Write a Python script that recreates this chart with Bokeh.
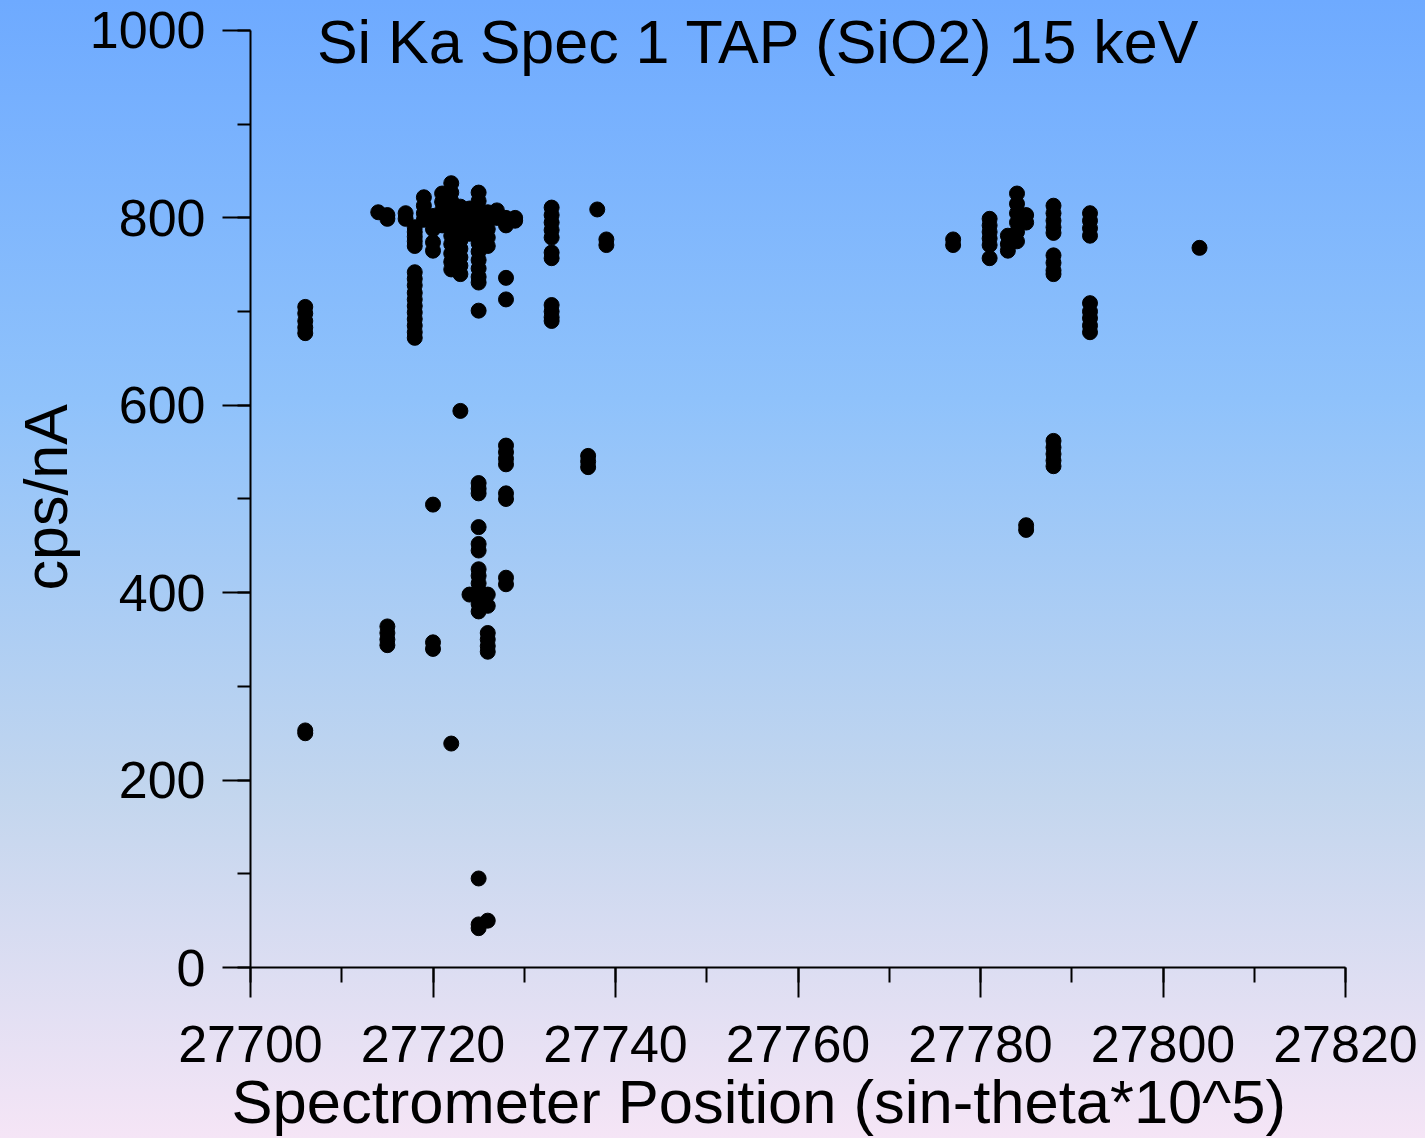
from bokeh.plotting import figure
from bokeh.models import Range1d, FixedTicker, Label, Title
from bokeh.embed import file_html
from bokeh.resources import INLINE

# ---- data (spectrometer position, cps/nA) ----
spec_pos = (
    [27706] * 7 + [27714] * 1 + [27715] * 6 + [27717] * 2 + [27718] * 16 +
    [27719] * 4 + [27720] * 8 + [27721] * 5 + [27722] * 12 + [27723] * 10 +
    [27724] * 5 + [27725] * 29 + [27726] * 12 + [27727] * 2 + [27728] * 12 +
    [27729] * 2 + [27733] * 11 + [27737] * 3 + [27738] * 1 + [27739] * 2 +
    [27777] * 2 + [27781] * 6 + [27783] * 3 + [27784] * 6 + [27785] * 4 +
    [27788] * 14 + [27792] * 9 + [27804] * 1
)
cps_na = [
    705, 698, 690, 683, 677, 253, 250,                       # 27706
    806,                                                     # 27714
    803, 799, 364, 357, 350, 344,                            # 27715
    805, 799,                                                # 27717
    790, 785, 780, 775, 770, 742, 735, 728, 720, 713, 706, 699, 692, 685, 678, 672,  # 27718
    822, 813, 805, 798,                                      # 27719
    802, 795, 788, 774, 765, 494, 347, 340,                  # 27720
    826, 817, 808, 800, 792,                                 # 27721
    837, 827, 818, 808, 799, 790, 781, 772, 762, 753, 745, 239,  # 27722
    812, 803, 794, 785, 776, 767, 758, 749, 740, 594,        # 27723
    810, 801, 792, 783, 398,                                 # 27724
    827, 818, 809, 800, 791, 782, 773, 764, 755, 746, 737, 731, 701,
    517, 511, 506, 470, 452, 445, 425, 418, 410, 402, 396, 388, 380, 95, 46, 42,  # 27725
    806, 797, 788, 779, 770, 398, 386, 357, 350, 343, 337, 50,  # 27726
    808, 800,                                                # 27727
    800, 792, 736, 713, 557, 550, 543, 537, 506, 500, 416, 409,  # 27728
    800, 797,                                                # 27729
    811, 803, 795, 787, 779, 763, 757, 707, 700, 694, 690,   # 27733
    546, 540, 534,                                           # 27737
    809,                                                     # 27738
    777, 771,                                                # 27739
    777, 771,                                                # 27777
    799, 792, 785, 778, 771, 757,                            # 27781
    781, 772, 765,                                           # 27783
    826, 815, 805, 795, 785, 775,                            # 27784
    803, 795, 472, 467,                                      # 27785
    813, 805, 797, 790, 784, 760, 752, 744, 740, 562, 555, 548, 541, 535,  # 27788
    805, 797, 789, 781, 709, 700, 693, 685, 678,             # 27792
    768,                                                     # 27804
]

x_major = [27700, 27720, 27740, 27760, 27780, 27800, 27820]
x_minor = [27700, 27710, 27720, 27730, 27740, 27750, 27760, 27770,
           27780, 27790, 27800, 27810, 27820]
y_major = [0, 200, 400, 600, 800, 1000]
y_minor = [0, 100, 200, 300, 400, 500, 600, 700, 800, 900, 1000]

title_text = "Si Ka Spec 1 TAP (SiO2) 15 keV"
x_label_text = "Spectrometer Position (sin-theta*10^5)"
y_label_text = "cps/nA"

FONT = "Liberation Sans"

# the frame reaches to the top edge so the title (which sits above the
# 1000 tick) is not clipped; the y axis line is bounded to 0..1000
p = figure(width=1425, height=1138, output_backend="svg", toolbar_location=None,
           x_range=Range1d(27700, 27820), y_range=Range1d(0, 1032),
           min_border_left=250, min_border_right=80, min_border_top=0,
           min_border_bottom=171)
p.styles = {"background": "linear-gradient(to bottom, #6eaaff 0%, #8fc2fb 35%, "
                          "#c3d6ee 70%, #f5e5f6 100%)"}
p.background_fill_color = None
p.border_fill_color = None
p.outline_line_color = None
p.xgrid.visible = False
p.ygrid.visible = False

p.scatter(spec_pos, cps_na, size=15, color="black")

for ax in (p.xaxis[0], p.yaxis[0]):
    ax.axis_line_width = 2
    ax.axis_line_color = "black"
    ax.major_tick_line_width = 2
    ax.minor_tick_line_width = 2
    ax.major_tick_line_color = "black"
    ax.minor_tick_line_color = "black"
    ax.major_tick_in = 0
    ax.minor_tick_in = 0
    ax.major_label_text_font = FONT
    ax.major_label_text_font_size = "52px"
    ax.major_label_text_color = "black"

p.xaxis[0].ticker = FixedTicker(ticks=x_major, minor_ticks=x_minor)
p.xaxis[0].major_tick_out = 30
p.xaxis[0].minor_tick_out = 15
p.xaxis[0].major_label_standoff = 28

p.yaxis[0].ticker = FixedTicker(ticks=y_major, minor_ticks=y_minor)
p.yaxis[0].bounds = (0, 1000)
p.yaxis[0].major_tick_out = 28
p.yaxis[0].minor_tick_out = 13
p.yaxis[0].major_label_standoff = 17

p.add_layout(Label(x=27755.7, y=988, text=title_text, text_align="center",
                   text_baseline="alphabetic", text_font=FONT,
                   text_font_size="61px", text_color="black"))
p.add_layout(Title(text=y_label_text, align="left", offset=377, standoff=14,
                   text_font=FONT, text_font_size="61px",
                   text_font_style="normal", text_color="black"), "left")
p.add_layout(Title(text=x_label_text, align="left", offset=-19, standoff=0,
                   text_font=FONT, text_font_size="61.5px",
                   text_font_style="normal", text_color="black"), "below")

open("out.html", "w").write(file_html(p, INLINE))
